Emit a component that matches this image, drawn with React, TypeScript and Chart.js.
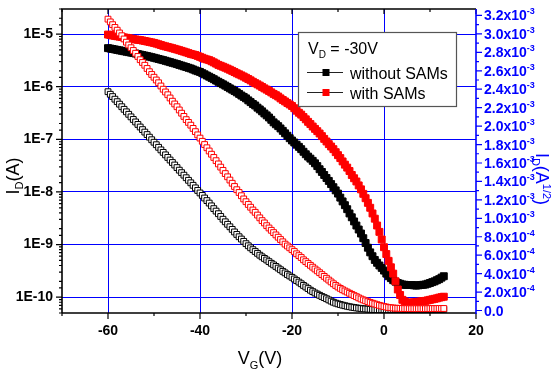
import React, { useEffect, useRef } from "react";
import { Chart, registerables } from "chart.js";

Chart.register(...registerables);

// Gate voltage sweep V_G (V), 0.5 V steps
const VG = [
  -60, -59.5, -59, -58.5, -58, -57.5, -57, -56.5, -56, -55.5,
  -55, -54.5, -54, -53.5, -53, -52.5, -52, -51.5, -51, -50.5,
  -50, -49.5, -49, -48.5, -48, -47.5, -47, -46.5, -46, -45.5,
  -45, -44.5, -44, -43.5, -43, -42.5, -42, -41.5, -41, -40.5,
  -40, -39.5, -39, -38.5, -38, -37.5, -37, -36.5, -36, -35.5,
  -35, -34.5, -34, -33.5, -33, -32.5, -32, -31.5, -31, -30.5,
  -30, -29.5, -29, -28.5, -28, -27.5, -27, -26.5, -26, -25.5,
  -25, -24.5, -24, -23.5, -23, -22.5, -22, -21.5, -21, -20.5,
  -20, -19.5, -19, -18.5, -18, -17.5, -17, -16.5, -16, -15.5,
  -15, -14.5, -14, -13.5, -13, -12.5, -12, -11.5, -11, -10.5,
  -10, -9.5, -9, -8.5, -8, -7.5, -7, -6.5, -6, -5.5,
  -5, -4.5, -4, -3.5, -3, -2.5, -2, -1.5, -1, -0.5,
  0, 0.5, 1, 1.5, 2, 2.5, 3, 3.5, 4, 4.5,
  5, 5.5, 6, 6.5, 7, 7.5, 8, 8.5, 9, 9.5,
  10, 10.5, 11, 11.5, 12, 12.5,
  13,
];

// I_D (A) on the log axis — without SAMs (black, filled squares)
const ID_WITHOUT = [
  5.41e-6, 5.31e-6, 5.21e-6, 5.11e-6, 5.01e-6, 4.91e-6, 4.82e-6, 4.72e-6, 4.63e-6, 4.54e-6,
  4.45e-6, 4.36e-6, 4.27e-6, 4.17e-6, 4.08e-6, 3.99e-6, 3.91e-6, 3.82e-6, 3.73e-6, 3.64e-6,
  3.55e-6, 3.46e-6, 3.37e-6, 3.28e-6, 3.2e-6, 3.11e-6, 3.02e-6, 2.93e-6, 2.85e-6, 2.77e-6,
  2.69e-6, 2.6e-6, 2.52e-6, 2.44e-6, 2.37e-6, 2.29e-6, 2.22e-6, 2.13e-6, 2.04e-6, 1.97e-6,
  1.91e-6, 1.81e-6, 1.72e-6, 1.63e-6, 1.55e-6, 1.47e-6, 1.39e-6, 1.31e-6, 1.24e-6, 1.17e-6,
  1.11e-6, 1.05e-6, 9.9e-7, 9.3e-7, 8.8e-7, 8.3e-7, 7.8e-7, 7.3e-7, 6.8e-7, 6.4e-7,
  6.0e-7, 5.5e-7, 5.1e-7, 4.7e-7, 4.4e-7, 4.0e-7, 3.7e-7, 3.4e-7, 3.1e-7, 2.85e-7,
  2.6e-7, 2.35e-7, 2.1e-7, 1.93e-7, 1.78e-7, 1.61e-7, 1.45e-7, 1.3e-7, 1.17e-7, 1.05e-7,
  9.5e-8, 8.7e-8, 7.9e-8, 7.2e-8, 6.5e-8, 5.8e-8, 5.2e-8, 4.7e-8, 4.3e-8, 3.9e-8,
  3.5e-8, 3.1e-8, 2.7e-8, 2.4e-8, 2.1e-8, 1.84e-8, 1.62e-8, 1.41e-8, 1.23e-8, 1.07e-8,
  9.3e-9, 7.8e-9, 6.6e-9, 5.6e-9, 4.7e-9, 3.9e-9, 3.3e-9, 2.75e-9, 2.3e-9, 1.93e-9,
  1.62e-9, 1.32e-9, 1.07e-9, 8.7e-10, 7.1e-10, 6.0e-10, 5.1e-10, 4.5e-10, 4.0e-10, 3.6e-10,
  3.2e-10, 2.8e-10, 2.5e-10, 2.3e-10, 2.1e-10, 1.97e-10, 1.86e-10, 1.8e-10, 1.74e-10, 1.72e-10,
  1.7e-10, 1.7e-10, 1.7e-10, 1.68e-10, 1.66e-10, 1.68e-10, 1.7e-10, 1.72e-10, 1.74e-10, 1.8e-10,
  1.86e-10, 1.93e-10, 2.0e-10, 2.1e-10, 2.2e-10, 2.35e-10,
  2.5e-10,
];

// I_D (A) on the log axis — with SAMs (red, filled squares)
const ID_WITH = [
  9.8e-6, 9.6e-6, 9.4e-6, 9.25e-6, 9.1e-6, 8.95e-6, 8.8e-6, 8.65e-6, 8.5e-6, 8.35e-6,
  8.2e-6, 8.05e-6, 7.9e-6, 7.8e-6, 7.7e-6, 7.55e-6, 7.4e-6, 7.25e-6, 7.1e-6, 6.95e-6,
  6.8e-6, 6.6e-6, 6.4e-6, 6.2e-6, 6.0e-6, 5.85e-6, 5.7e-6, 5.55e-6, 5.4e-6, 5.25e-6,
  5.1e-6, 4.95e-6, 4.8e-6, 4.65e-6, 4.5e-6, 4.35e-6, 4.2e-6, 4.1e-6, 4.0e-6, 3.85e-6,
  3.7e-6, 3.55e-6, 3.4e-6, 3.3e-6, 3.2e-6, 3.05e-6, 2.9e-6, 2.75e-6, 2.6e-6, 2.5e-6,
  2.4e-6, 2.3e-6, 2.2e-6, 2.1e-6, 2.0e-6, 1.9e-6, 1.8e-6, 1.72e-6, 1.64e-6, 1.56e-6,
  1.48e-6, 1.4e-6, 1.32e-6, 1.24e-6, 1.17e-6, 1.11e-6, 1.05e-6, 9.9e-7, 9.3e-7, 8.8e-7,
  8.3e-7, 7.8e-7, 7.3e-7, 6.9e-7, 6.5e-7, 6.0e-7, 5.6e-7, 5.25e-7, 4.9e-7, 4.6e-7,
  4.3e-7, 3.9e-7, 3.5e-7, 3.2e-7, 2.95e-7, 2.65e-7, 2.4e-7, 2.15e-7, 1.95e-7, 1.75e-7,
  1.58e-7, 1.43e-7, 1.29e-7, 1.15e-7, 1.02e-7, 9.1e-8, 8.1e-8, 7.3e-8, 6.5e-8, 5.7e-8,
  5.0e-8, 4.4e-8, 3.8e-8, 3.3e-8, 2.9e-8, 2.5e-8, 2.1e-8, 1.82e-8, 1.58e-8, 1.33e-8,
  1.12e-8, 9.2e-9, 7.6e-9, 6.2e-9, 5.0e-9, 3.9e-9, 3.1e-9, 2.3e-9, 1.74e-9, 1.25e-9,
  8.9e-10, 6.6e-10, 4.9e-10, 3.7e-10, 2.8e-10, 2.0e-10, 1.4e-10, 1.1e-10, 8.9e-11, 8.3e-11,
  7.9e-11, 7.8e-11, 7.9e-11, 8.0e-11, 8.1e-11, 8.2e-11, 8.3e-11, 8.4e-11, 8.5e-11, 8.7e-11,
  8.9e-11, 9.1e-11, 9.3e-11, 9.5e-11, 9.8e-11, 1.0e-10,
  1.02e-10,
];

// I_D^1/2 in units of 10^-3 A^1/2 (right axis) — without SAMs (black, hollow squares)
const SQRT_WITHOUT = [
  2.373, 2.345, 2.32, 2.292, 2.265, 2.238, 2.21, 2.182, 2.155, 2.128,
  2.1, 2.072, 2.045, 2.018, 1.99, 1.962, 1.935, 1.908, 1.88, 1.852,
  1.825, 1.798, 1.77, 1.742, 1.715, 1.688, 1.66, 1.632, 1.605, 1.578,
  1.55, 1.522, 1.495, 1.468, 1.44, 1.412, 1.385, 1.358, 1.33, 1.302,
  1.275, 1.248, 1.22, 1.192, 1.165, 1.135, 1.105, 1.078, 1.05, 1.02,
  0.99, 0.962, 0.935, 0.908, 0.88, 0.852, 0.825, 0.8, 0.775, 0.75,
  0.725, 0.702, 0.68, 0.66, 0.64, 0.62, 0.6, 0.582, 0.565, 0.548,
  0.53, 0.512, 0.495, 0.478, 0.46, 0.442, 0.425, 0.408, 0.39, 0.375,
  0.36, 0.342, 0.325, 0.308, 0.29, 0.272, 0.255, 0.238, 0.22, 0.205,
  0.19, 0.178, 0.165, 0.152, 0.14, 0.128, 0.115, 0.102, 0.09, 0.08,
  0.072, 0.065, 0.058, 0.052, 0.046, 0.041, 0.036, 0.032, 0.028, 0.025,
  0.022, 0.019, 0.017, 0.015, 0.013, 0.011, 0.01, 0.009, 0.008, 0.0075,
  0.007, 0.007, 0.007, 0.0075, 0.008, 0.008, 0.008, 0.0085, 0.009, 0.009,
  0.009, 0.0095, 0.01, 0.01, 0.01, 0.01, 0.01, 0.0105, 0.011, 0.011,
  0.011, 0.0115, 0.012, 0.012, 0.012, 0.0125,
  0.013,
];

// I_D^1/2 in units of 10^-3 A^1/2 (right axis) — with SAMs (red, hollow squares)
const SQRT_WITH = [
  3.16, 3.13, 3.1, 3.07, 3.04, 3.01, 2.98, 2.945, 2.91, 2.88,
  2.85, 2.82, 2.79, 2.755, 2.72, 2.69, 2.66, 2.625, 2.59, 2.56,
  2.53, 2.5, 2.47, 2.435, 2.4, 2.37, 2.34, 2.305, 2.27, 2.24,
  2.21, 2.175, 2.14, 2.105, 2.07, 2.04, 2.01, 1.975, 1.94, 1.905,
  1.87, 1.835, 1.8, 1.765, 1.73, 1.695, 1.66, 1.625, 1.59, 1.555,
  1.52, 1.485, 1.45, 1.415, 1.38, 1.345, 1.31, 1.28, 1.245, 1.21,
  1.18, 1.15, 1.12, 1.09, 1.065, 1.035, 1.005, 0.975, 0.95, 0.92,
  0.895, 0.87, 0.845, 0.82, 0.795, 0.77, 0.745, 0.72, 0.7, 0.68,
  0.66, 0.64, 0.615, 0.595, 0.575, 0.55, 0.53, 0.51, 0.49, 0.47,
  0.45, 0.43, 0.41, 0.39, 0.37, 0.35, 0.33, 0.31, 0.29, 0.272,
  0.255, 0.24, 0.225, 0.212, 0.2, 0.187, 0.175, 0.162, 0.15, 0.137,
  0.125, 0.115, 0.105, 0.096, 0.087, 0.079, 0.071, 0.063, 0.056, 0.049,
  0.043, 0.038, 0.033, 0.03, 0.027, 0.025, 0.024, 0.023, 0.022, 0.021,
  0.021, 0.02, 0.02, 0.02, 0.02, 0.02, 0.02, 0.02, 0.02, 0.02,
  0.021, 0.021, 0.021, 0.021, 0.022, 0.022,
  0.022,
];

const SERIES_NAMES = ["without SAMs", "with SAMs"];
const LEGEND_TITLE = { main: "V", sub: "D", rest: " = -30V" };
const X_GRID_VALUES = [-60, -40, -20, 0];
// right axis ticks, in units of 10^-3 A^1/2
const RIGHT_TICK_VALUES = [
  0, 0.2, 0.4, 0.6, 0.8, 1.0, 1.2, 1.4, 1.6,
  1.8, 2.0, 2.2, 2.4, 2.6, 2.8, 3.0, 3.2,
];
const RIGHT_TICK_MANT = [
  "0.0", "2.0", "4.0", "6.0", "8.0", "1.0", "1.2", "1.4", "1.6",
  "1.8", "2.0", "2.2", "2.4", "2.6", "2.8", "3.0", "3.2",
];
const RIGHT_TICK_EXP = [
  "", "-4", "-4", "-4", "-4", "-3", "-3", "-3", "-3",
  "-3", "-3", "-3", "-3", "-3", "-3", "-3", "-3",
];

const FONT = '"Liberation Sans", Arial, Helvetica, sans-serif';
const BLUE = "#0000ff";
const RED = "#ff0000";

type Part = { t: string; size: number; dy?: number; bold?: boolean };

function setFont(ctx: CanvasRenderingContext2D, p: Part) {
  ctx.font = `${p.bold ? "bold " : ""}${p.size}px ${FONT}`;
}
function partsWidth(ctx: CanvasRenderingContext2D, parts: Part[]) {
  let w = 0;
  for (const p of parts) {
    setFont(ctx, p);
    w += ctx.measureText(p.t).width;
  }
  return w;
}
function drawParts(ctx: CanvasRenderingContext2D, parts: Part[], x: number, y: number) {
  let cx = x;
  for (const p of parts) {
    setFont(ctx, p);
    ctx.fillText(p.t, cx, y + (p.dy || 0));
    cx += ctx.measureText(p.t).width;
  }
}

const isDecade = (v: number) => {
  if (!(v > 0)) return false;
  const l = Math.log10(v);
  return Math.abs(l - Math.round(l)) < 1e-6;
};

const noPad = (s: any) => {
  s.paddingTop = 0;
  s.paddingBottom = 0;
  s.paddingLeft = 0;
  s.paddingRight = 0;
};

const overlay = {
  id: "overlay",
  afterDraw(chart: any) {
    const { ctx, chartArea: a, scales } = chart;
    const xs = scales.x;
    const ys = scales.y;
    const y2 = scales.y2;
    ctx.save();
    ctx.textBaseline = "alphabetic";
    ctx.textAlign = "left";

    // tick marks (left log axis, bottom and top)
    ctx.lineWidth = 1.2;
    ctx.strokeStyle = "#000";
    ctx.beginPath();
    for (const t of ys.ticks) {
      const py = ys.getPixelForValue(t.value);
      if (py < a.top - 0.5 || py > a.bottom + 0.5) continue;
      const len = isDecade(t.value) ? 6 : 3;
      ctx.moveTo(a.left, py);
      ctx.lineTo(a.left - len, py);
    }
    for (const t of xs.ticks) {
      const px = xs.getPixelForValue(t.value);
      const major = t.value % 20 === 0;
      ctx.moveTo(px, a.bottom);
      ctx.lineTo(px, a.bottom + (major ? 6 : 3));
      ctx.moveTo(px, a.top);
      ctx.lineTo(px, a.top + (major ? 5 : 3));
    }
    ctx.stroke();

    // frame (black: left, bottom, top)
    ctx.lineWidth = 1.6;
    ctx.beginPath();
    ctx.moveTo(a.left, a.bottom);
    ctx.lineTo(a.left, a.top);
    ctx.lineTo(a.right, a.top);
    ctx.moveTo(a.left, a.bottom);
    ctx.lineTo(a.right, a.bottom);
    ctx.stroke();

    // right axis (blue)
    ctx.strokeStyle = BLUE;
    ctx.beginPath();
    ctx.moveTo(a.right, a.top);
    ctx.lineTo(a.right, a.bottom + 1);
    ctx.stroke();
    ctx.lineWidth = 1.2;
    ctx.beginPath();
    for (let i = 0; i < RIGHT_TICK_VALUES.length; i++) {
      const py = y2.getPixelForValue(RIGHT_TICK_VALUES[i]);
      ctx.moveTo(a.right, py);
      ctx.lineTo(a.right + 6, py);
      if (i < RIGHT_TICK_VALUES.length - 1) {
        const pm = y2.getPixelForValue((RIGHT_TICK_VALUES[i] + RIGHT_TICK_VALUES[i + 1]) / 2);
        ctx.moveTo(a.right, pm);
        ctx.lineTo(a.right + 3, pm);
      }
    }
    ctx.stroke();

    // right tick labels
    ctx.fillStyle = BLUE;
    for (let i = 0; i < RIGHT_TICK_VALUES.length; i++) {
      const py = y2.getPixelForValue(RIGHT_TICK_VALUES[i]);
      const parts: Part[] = RIGHT_TICK_EXP[i]
        ? [
            { t: RIGHT_TICK_MANT[i] + "x10", size: 14, bold: true },
            { t: RIGHT_TICK_EXP[i], size: 9, bold: true, dy: -6 },
          ]
        : [{ t: RIGHT_TICK_MANT[i], size: 14, bold: true }];
      drawParts(ctx, parts, a.right + 8, py + 5);
    }

    // right axis title (rotated clockwise)
    {
      const parts: Part[] = [
        { t: "I", size: 18 },
        { t: "D", size: 11, dy: 4 },
        { t: "(A", size: 18 },
        { t: "1/2", size: 11, dy: -7 },
        { t: ")", size: 18 },
      ];
      ctx.save();
      ctx.translate(535.5, 179);
      ctx.rotate(Math.PI / 2);
      const w = partsWidth(ctx, parts);
      drawParts(ctx, parts, -w / 2, 0);
      ctx.restore();
    }

    // left axis title (rotated counter-clockwise)
    ctx.fillStyle = "#000";
    {
      const parts: Part[] = [
        { t: "I", size: 18 },
        { t: "D", size: 11, dy: 4 },
        { t: "(A)", size: 18 },
      ];
      ctx.save();
      ctx.translate(19, 176);
      ctx.rotate(-Math.PI / 2);
      const w = partsWidth(ctx, parts);
      drawParts(ctx, parts, -w / 2, 0);
      ctx.restore();
    }

    // x axis title
    {
      const parts: Part[] = [
        { t: "V", size: 18 },
        { t: "G", size: 11, dy: 5 },
        { t: "(V)", size: 18 },
      ];
      const w = partsWidth(ctx, parts);
      drawParts(ctx, parts, 260 - w / 2, 364);
    }

    // legend box
    ctx.fillStyle = "#fff";
    ctx.fillRect(298.5, 32.5, 158, 74);
    ctx.strokeStyle = "#555";
    ctx.lineWidth = 1.2;
    ctx.strokeRect(298.5, 32.5, 158, 74);
    ctx.fillStyle = "#000";
    drawParts(
      ctx,
      [
        { t: LEGEND_TITLE.main, size: 16 },
        { t: LEGEND_TITLE.sub, size: 10, dy: 4 },
        { t: LEGEND_TITLE.rest, size: 16 },
      ],
      308,
      53.5
    );
    const rows = [
      { y: 72.5, color: "#000", name: SERIES_NAMES[0] },
      { y: 92.5, color: RED, name: SERIES_NAMES[1] },
    ];
    for (const r of rows) {
      ctx.strokeStyle = "#222";
      ctx.lineWidth = 1;
      ctx.beginPath();
      ctx.moveTo(307, r.y);
      ctx.lineTo(343, r.y);
      ctx.stroke();
      ctx.fillStyle = r.color;
      ctx.fillRect(322.5, r.y - 3.5, 7, 7);
      ctx.fillStyle = "#000";
      drawParts(ctx, [{ t: r.name, size: 16 }], 350, r.y + 6.5);
    }

    ctx.restore();
  },
};

export default function App() {
  const ref = useRef<HTMLCanvasElement>(null);
  useEffect(() => {
    const canvas = ref.current;
    if (!canvas) return;
    const pts = (ys: number[]) => VG.map((v, i) => ({ x: v, y: ys[i] }));
    const hollow = (color: string) => ({
      pointStyle: "rect",
      pointRadius: 4.1,
      pointBackgroundColor: "#fff",
      pointBorderColor: color,
      pointBorderWidth: 1,
      showLine: false,
    });
    const filled = (color: string) => ({
      pointStyle: "rect",
      pointRadius: 4.9,
      pointBackgroundColor: color,
      pointBorderColor: color,
      pointBorderWidth: 1,
      showLine: false,
    });
    const chart = new Chart(canvas, {
      type: "scatter",
      data: {
        datasets: [
          { label: SERIES_NAMES[1] + " (sqrt)", data: pts(SQRT_WITH), yAxisID: "y2", ...hollow(RED) },
          { label: SERIES_NAMES[0] + " (sqrt)", data: pts(SQRT_WITHOUT), yAxisID: "y2", ...hollow("#000") },
          { label: SERIES_NAMES[1], data: pts(ID_WITH), yAxisID: "y", ...filled(RED) },
          { label: SERIES_NAMES[0], data: pts(ID_WITHOUT), yAxisID: "y", ...filled("#000") },
        ],
      },
      options: {
        animation: false,
        responsive: false,
        events: [],
        layout: { padding: { top: 9, left: 0, right: 0, bottom: 0 } },
        plugins: { legend: { display: false }, tooltip: { enabled: false } },
        scales: {
          x: {
            type: "linear",
            position: "bottom",
            min: -70,
            max: 20,
            afterFit: (s: any) => {
              s.height = 58;
              noPad(s);
            },
            ticks: {
              stepSize: 10,
              autoSkip: false,
              maxRotation: 0,
              padding: 10,
              color: "#000",
              font: { family: FONT, size: 14, weight: "bold" },
              callback: (v: any) => (Number(v) % 20 === 0 ? String(Math.round(Number(v))) : ""),
            },
            grid: {
              drawTicks: false,
              lineWidth: 1,
              color: (c: any) =>
                c.tick && X_GRID_VALUES.includes(c.tick.value) ? BLUE : "rgba(0,0,0,0)",
            },
            border: { display: false },
          },
          y: {
            type: "logarithmic",
            position: "left",
            min: 5e-11,
            max: 3e-5,
            afterFit: (s: any) => {
              s.width = 62;
              noPad(s);
            },
            ticks: {
              autoSkip: false,
              padding: 9,
              color: "#000",
              font: { family: FONT, size: 14, weight: "bold" },
              callback: (v: any) => {
                const n = Number(v);
                return isDecade(n) ? `1E${Math.round(Math.log10(n))}` : "";
              },
            },
            grid: {
              drawTicks: false,
              lineWidth: 1,
              color: (c: any) => (c.tick && isDecade(c.tick.value) ? BLUE : "rgba(0,0,0,0)"),
            },
            border: { display: false },
          },
          y2: {
            type: "linear",
            position: "right",
            min: -0.027,
            max: 3.27,
            afterFit: (s: any) => {
              s.width = 79;
              noPad(s);
            },
            ticks: { display: false },
            grid: { display: false },
            border: { display: false },
          },
        },
      },
      plugins: [overlay],
    } as any);
    return () => chart.destroy();
  }, []);
  return (
    <div style={{ position: "fixed", left: 0, top: 0, width: 555, height: 371, background: "#fff" }}>
      <canvas ref={ref} width={555} height={371} style={{ display: "block", width: 555, height: 371 }} />
    </div>
  );
}
